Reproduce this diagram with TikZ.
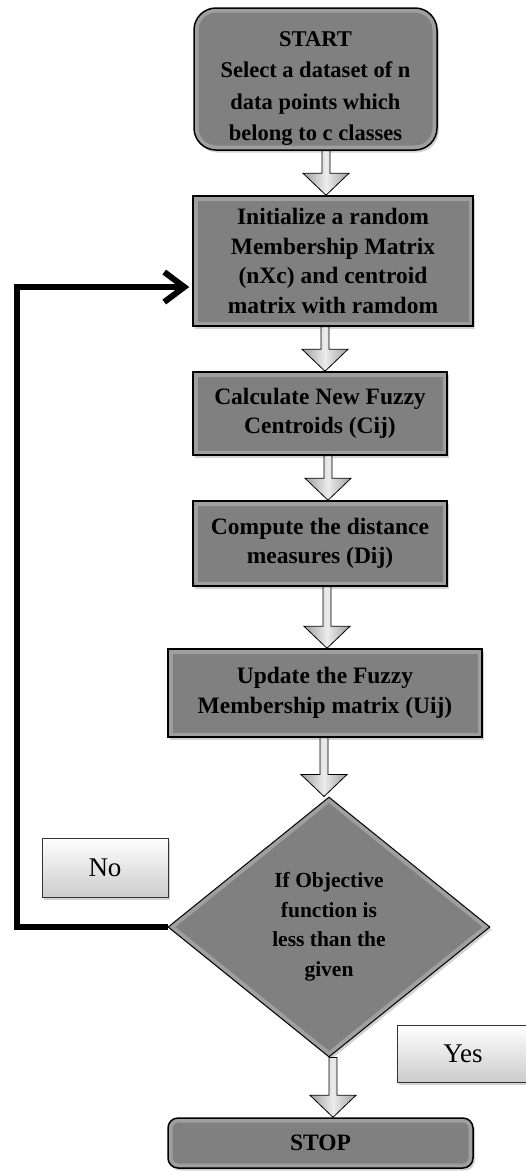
\documentclass[tikz,border=0pt]{standalone}
\usepackage{fontspec}
\setmainfont{Liberation Serif}
\usetikzlibrary{shapes.geometric,arrows.meta,shadows,calc}
\definecolor{boxgray}{RGB}{128,128,128}
\tikzset{
  bevel/.style={path picture={\draw[white,opacity=.25,line width=9pt] (path picture bounding box.south west) rectangle (path picture bounding box.north east);}},
  dbevel/.style={path picture={\draw[white,opacity=.25,line width=9pt] (path picture bounding box.north) -- (path picture bounding box.east) -- (path picture bounding box.south) -- (path picture bounding box.west) -- cycle;}},
  proc/.style={draw=black, line width=1.5pt, fill=boxgray, align=center,
    font=\bfseries\fontsize{23.5}{29.5}\selectfont, inner sep=0pt,
    drop shadow={shadow xshift=2pt,shadow yshift=-2.5pt,opacity=.35}, bevel},
  decision/.style={diamond, draw=black, line width=1pt, fill=boxgray, align=center,
    font=\bfseries\fontsize{21.5}{29.5}\selectfont, inner sep=0pt,
    drop shadow={shadow xshift=2pt,shadow yshift=-2.5pt,opacity=.35}, dbevel},
  lbl/.style={draw=black!80, line width=1pt, top color=white, bottom color=gray!40,
    font=\fontsize{27}{30}\selectfont, inner sep=0pt,
    drop shadow={shadow xshift=2pt,shadow yshift=-2.5pt,opacity=.35}},
  blk/.style={draw=black, line width=0.8pt, left color=gray!75, right color=gray!75, middle color=gray!15},
  loopline/.style={line width=6pt, draw=black, -{Straight Barb[length=20pt,width=30pt,line width=6pt]}}
}
\newcommand\blockarr[3]{%
  \draw[blk] let \p1=(#1.south -| #3,0), \p2=(#2.north -| #3,0) in
    (\x1-4pt,\y1) -- (\x1-4pt,\y2+22pt) -- (\x1-23pt,\y2+22pt) -- (\x1,\y2)
    -- (\x1+23pt,\y2+22pt) -- (\x1+4pt,\y2+22pt) -- (\x1+4pt,\y1) -- cycle;}
\begin{document}
\begin{tikzpicture}[x=1pt,y=-1pt]
\useasboundingbox[fill=white] (0,0) rectangle (526,1171);

\node[proc, rounded corners=22pt, minimum width=243pt, minimum height=142pt,
      font=\bfseries\fontsize{22.5}{31.5}\selectfont] (b1) at (315.5,79)
  {\rule{0pt}{34pt}START\\Select a dataset of n\\data points which\\belong to c classes};
\node[proc, minimum width=280pt, minimum height=130pt] (b2) at (333,261)
  {Initialize a random\\Membership Matrix\\(nXc) and centroid\\matrix with ramdom};
\node[proc, minimum width=254pt, minimum height=83pt] (b3) at (320,413.5)
  {Calculate New Fuzzy\\Centroids (Cij)};
\node[proc, minimum width=254pt, minimum height=85pt] (b4) at (320,543.5)
  {Compute the distance\\measures (Dij)};
\node[proc, minimum width=314pt, minimum height=88pt] (b5) at (325,693)
  {Update the Fuzzy\\Membership matrix (Uij)};
\node[decision, minimum width=322pt, minimum height=260pt, shape aspect=1.24] (dia) at (329,927)
  {If Objective\\function is\\less than the\\given};
\node[proc, rounded corners=10pt, minimum width=305pt, minimum height=50pt] (stop) at (320.5,1143)
  {STOP};
\node[lbl, minimum width=126pt, minimum height=59pt] (no) at (105,867.5) {No};
\node[lbl, minimum width=132pt, minimum height=57pt] (yes) at (463,1053.5) {Yes};

\blockarr{b1}{b2}{326}
\blockarr{b2}{b3}{325}
\blockarr{b3}{b4}{328}
\blockarr{b4}{b5}{327}
\blockarr{b5}{dia}{324}
\blockarr{dia}{stop}{333}

\draw[loopline] (dia.west) -| (17,287) -- ($(b2.west)+(-3,26)$);
\end{tikzpicture}
\end{document}
